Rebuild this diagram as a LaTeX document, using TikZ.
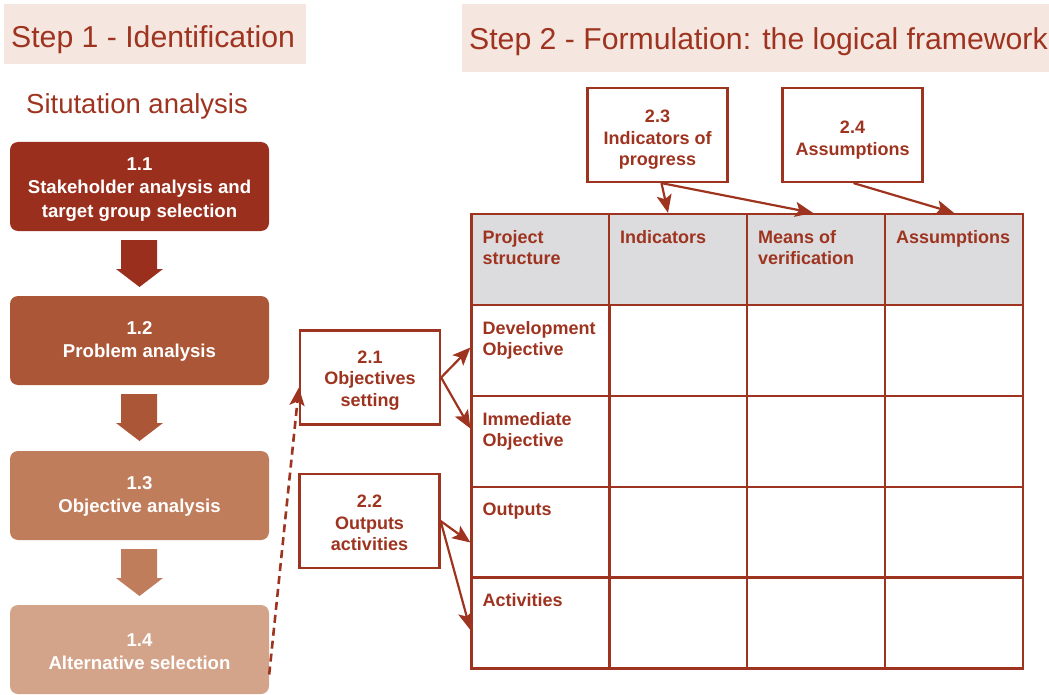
\documentclass[tikz,border=0pt]{standalone}
\usepackage{fontspec}
\setmainfont{Liberation Sans}
\usetikzlibrary{arrows.meta,calc}
\definecolor{dred}{HTML}{9E3420}
\definecolor{cA}{HTML}{9B2F1E}
\definecolor{cB}{HTML}{AB5636}
\definecolor{cC}{HTML}{C07D5C}
\definecolor{cD}{HTML}{D4A48A}
\definecolor{hdrbg}{HTML}{F5E6DF}
\definecolor{tblgray}{HTML}{DCDCDE}
\tikzset{
  title/.style={text=dred, font=\fontsize{30.2}{34}\selectfont, inner sep=0pt},
  stepbox/.style={rounded corners=8pt, minimum width=259pt, minimum height=89pt, inner sep=0pt},
  steptext/.style={inner sep=0pt, align=center, text=white, font=\bfseries\fontsize{18.6}{23.5}\selectfont},
  fbox/.style={draw=dred, line width=2.2pt, fill=white, minimum width=140pt, minimum height=94pt, inner sep=0pt},
  ftext/.style={inner sep=0pt, align=center, text=dred, font=\bfseries\fontsize{18}{21.5}\selectfont},
  cell/.style={draw=dred, line width=2.2pt, minimum width=138pt, minimum height=91pt, inner sep=0pt},
  ctext/.style={anchor=north west, inner sep=0pt, align=left, text=dred,
     font=\bfseries\fontsize{18}{21.5}\selectfont},
  conn/.style={draw=dred, line width=2.2pt, -{Stealth[length=18pt,width=15pt,inset=4pt]}},
}
\begin{document}
\begin{tikzpicture}[x=1pt,y=-1pt]
\useasboundingbox (0,0) rectangle (1049,695);
% headers
\fill[hdrbg] (4,4) rectangle (306,64);
\node[title, anchor=west] (t1) at (11,40) {Step 1 - Identification};
\fill[hdrbg] (462,4) rectangle (1049,72);
\node[title, anchor=west] (t2) at (469,42) {Step 2 - Formulation: the logical framework};
\node[text=dred, font=\fontsize{27.5}{30}\selectfont, inner sep=0pt, anchor=west] (sit) at (26,106) {Situtation analysis};
% step boxes
\node[stepbox, fill=cA] (s11) at (139.5,186.5) {};
\node[stepbox, fill=cB] (s12) at (139.5,340.5) {};
\node[stepbox, fill=cC] (s13) at (139.5,495.5) {};
\node[stepbox, fill=cD] (s14) at (139.5,649.5) {};
\node[steptext] (l11) at ([yshift=-3pt]s11.center) {1.1\\Stakeholder analysis and\\target group selection};
\node[steptext] (l12) at ([yshift=-1pt]s12.center) {1.2\\Problem analysis};
\node[steptext] (l13) at ([yshift=-1pt]s13.center) {1.3\\Objective analysis};
\node[steptext] (l14) at ([yshift=-2pt]s14.center) {1.4\\Alternative selection};
% block arrows
\foreach \c/\y in {cA/240, cB/394, cC/549}{
  \fill[\c] (121,\y) -- (157,\y) -- (157,\y+29) -- (163,\y+29) -- (139.5,\y+47) -- (116,\y+29) -- (121,\y+29) -- cycle;
}
% table
\foreach \col/\x in {1/540.5, 2/678, 3/816, 4/954}{
  \node[cell, fill=tblgray] (h\col) at (\x,259.5) {};
  \foreach \row/\y in {1/350.5, 2/441.5, 3/532.5, 4/623}{
    \node[cell] (c\row\col) at (\x,\y) {};
  }
}
\node[ctext] (th1) at ([xshift=12pt,yshift=-17pt]h1.north west) {Project\\structure};
\node[ctext] (th2) at ([xshift=12pt,yshift=-17pt]h2.north west) {Indicators};
\node[ctext] (th3) at ([xshift=12pt,yshift=-17pt]h3.north west) {Means of\\verification};
\node[ctext] (th4) at ([xshift=12pt,yshift=-17pt]h4.north west) {Assumptions};
\node[ctext] (tr1) at ([xshift=12pt,yshift=-17pt]c11.north west) {Development\\Objective};
\node[ctext] (tr2) at ([xshift=12pt,yshift=-17pt]c21.north west) {Immediate\\Objective};
\node[ctext] (tr3) at ([xshift=12pt,yshift=-17pt]c31.north west) {Outputs};
\node[ctext] (tr4) at ([xshift=12pt,yshift=-17pt]c41.north west) {Activities};
% formulation boxes
\node[fbox] (b21) at (370,377.5) {};
\node[fbox] (b22) at (369.5,521) {};
\node[fbox] (b23) at (657.5,135) {};
\node[fbox] (b24) at (852.5,135) {};
\node[ftext] (l21) at ([yshift=-3pt]b21.center) {2.1\\Objectives\\setting};
\node[ftext] (l22) at ([yshift=-2pt]b22.center) {2.2\\Outputs\\activities};
\node[ftext] (l23) at ([yshift=-5pt]b23.center) {2.3\\Indicators of\\progress};
\node[ftext] (l24) at ([yshift=-5pt]b24.center) {2.4\\Assumptions};
% connectors
\draw[conn] (b21.east) -- ([yshift=3pt]c11.west);
\draw[conn] (b21.east) -- ([yshift=13pt]c21.west);
\draw[conn] (b22.east) -- ([yshift=-10pt]c31.west);
\draw[conn] (b22.east) -- ([yshift=-7pt]c41.west);
\draw[conn] ([xshift=4pt]b23.south) -- ([xshift=-10pt]h2.north);
\draw[conn] ([xshift=4pt]b23.south) -- ([xshift=-3pt]h3.north);
\draw[conn] ([xshift=1pt]b24.south) -- (h4.north);
\draw[conn, line width=2.6pt, dash pattern=on 8pt off 5pt] ([yshift=-25pt]s14.east) -- ([yshift=-10pt]b21.west);
\end{tikzpicture}
\end{document}
